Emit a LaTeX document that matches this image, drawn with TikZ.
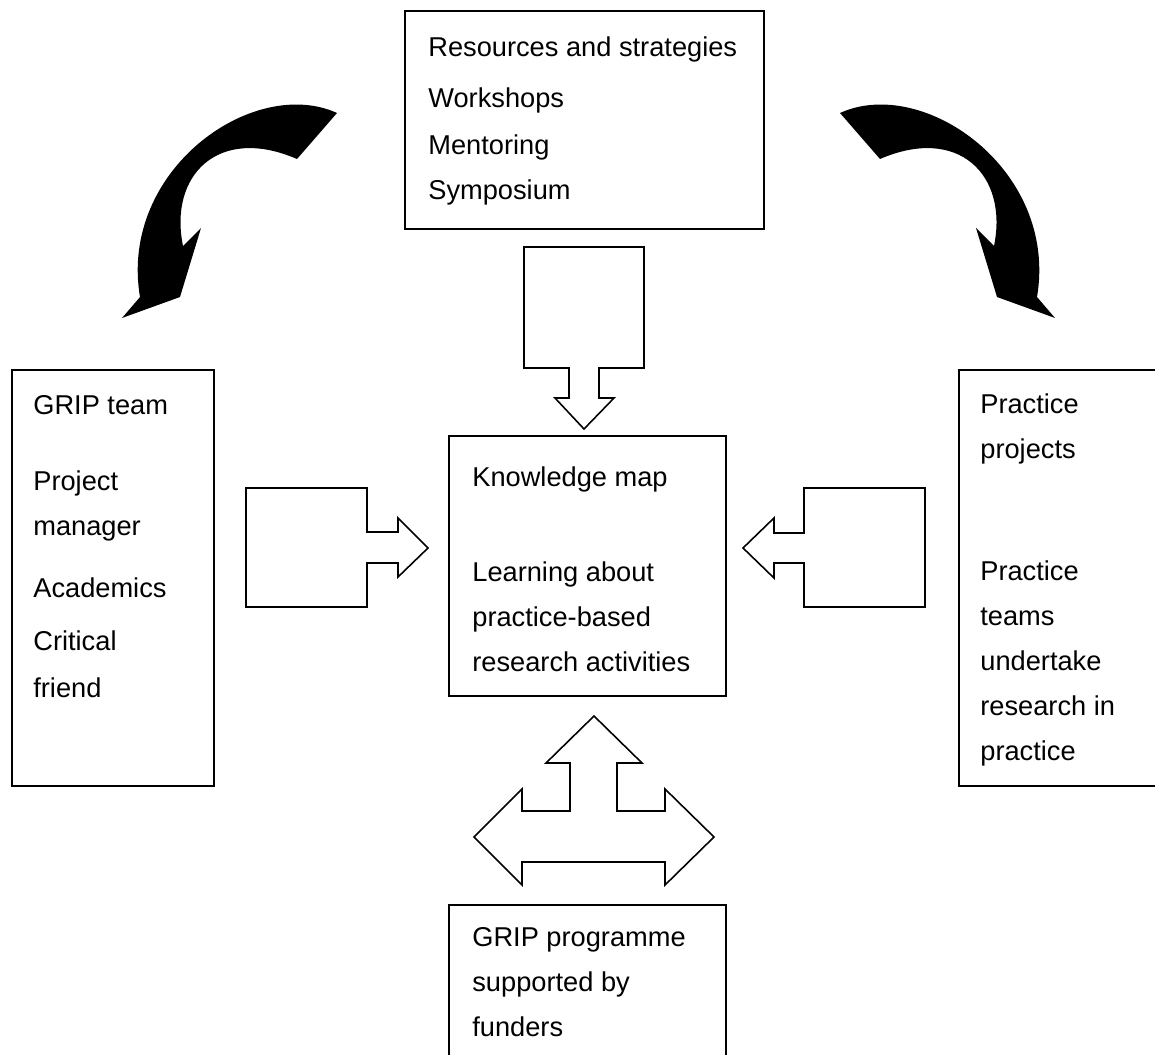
\documentclass[tikz,border=0pt]{standalone}
\usepackage{fontspec}
\setmainfont{Liberation Sans}
\usetikzlibrary{positioning}
\newcommand{\bentarrow}{%
  (251.5,113) .. controls (335,75) and (470,170) .. (448.5,297)
  -- (466.5,318) -- (408.5,297) -- (387.5,228) -- (405.5,246)
  .. controls (420,175) and (370,125) .. (291.5,159) -- cycle}

\begin{document}
\begin{tikzpicture}
  [
    x=0.02cm, y=-0.02cm,
    Box/.style={rectangle, draw=black, line width=1.1pt, anchor=north west, inner sep=0pt},
    Txt/.style={anchor=base west, align=left, inner sep=0pt, font=\fontsize{15.5}{25.6}\selectfont},
    Block/.style={draw=black, line width=0.9pt, fill=white, line join=miter},
    Bent/.style={fill=black, draw=none}
  ]
  \useasboundingbox (0,0) rectangle (1155,1054);
  \clip (0,0) rectangle (1155,1054);
  % Boxes
  \node[Box, minimum width=7.18cm, minimum height=4.36cm] (res) at (404,10) {};
  \node[Box, minimum width=4.04cm, minimum height=8.32cm] (team) at (11,369) {};
  \node[Box, minimum width=5.54cm, minimum height=5.2cm] (map) at (448,435) {};
  \node[Box, minimum width=4.3cm, minimum height=8.32cm] (proj) at (958,369) {};
  \node[Box, minimum width=5.54cm, minimum height=3.4cm] (fund) at (448,904) {};
  % Texts (anchored at the baseline of the last line)
  \node[Txt] (resText) at (428,199) {Resources and strategies\\[3.4pt]
    Workshops\\[1pt] Mentoring\\ Symposium};
  \node[Txt] (teamText) at (33,697) {GRIP team\\[18pt]
    Project\\ manager\\[9.5pt] Academics\\[4.5pt] Critical\\[1pt] friend};
  \node[Txt] (mapText) at (472,671) {Knowledge map\\[28pt]
    Learning about\\ practice-based\\ research activities};
  \node[Txt] (projText) at (980,760) {Practice\\ projects\\[43.8pt]
    Practice\\ teams\\ undertake\\ research in\\ practice};
  \node[Txt] (fundText) at (472,1036) {GRIP programme\\ supported by\\ funders};
  % Block arrows
  \draw[Block] (524,247) -- (644,247) -- (644,368) -- (599,368) -- (599,398)
    -- (614,398) -- (584,429) -- (555,398) -- (569,398) -- (569,368)
    -- (524,368) -- cycle;
  \draw[Block] (246,488) -- (367,488) -- (367,532) -- (398,532) -- (398,518)
    -- (428,548) -- (398,577) -- (398,563) -- (367,563) -- (367,607)
    -- (246,607) -- cycle;
  \draw[Block] (925,488) -- (804,488) -- (804,533) -- (774,533) -- (774,518)
    -- (743,548) -- (774,578) -- (774,563) -- (804,563) -- (804,607)
    -- (925,607) -- cycle;
  \draw[Block] (594,716) -- (642,763) -- (617,763) -- (617,811) -- (665,811)
    -- (665,789) -- (714,837) -- (665,885) -- (665,862) -- (522,862)
    -- (522,885) -- (474,837) -- (522,789) -- (522,811) -- (570,811)
    -- (570,763) -- (546,763) -- cycle;
  % Bent arrows
  \fill[Bent, shift={(588.5,0)}] \bentarrow;
  \fill[Bent, shift={(588.5,0)}, xscale=-1] \bentarrow;
\end{tikzpicture}
\end{document}
